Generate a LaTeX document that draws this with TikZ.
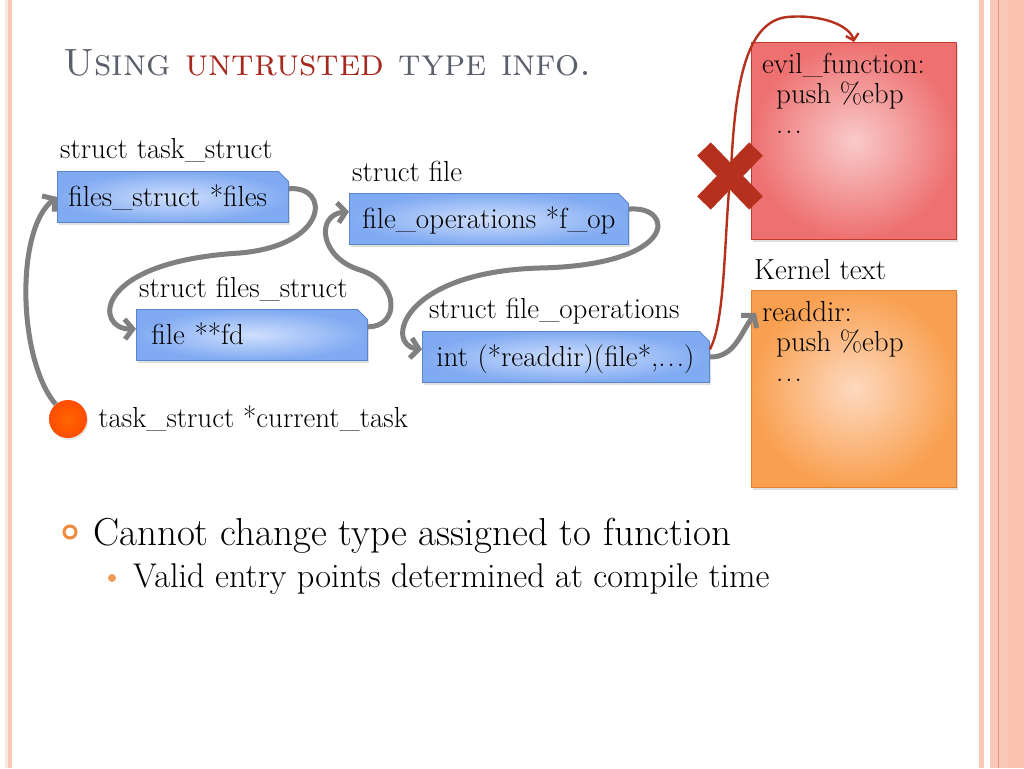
\documentclass[tikz,border=0pt]{standalone}
\usepackage{tikz}
\usetikzlibrary{arrows.meta, positioning, shapes.misc, shadows}

\definecolor{slidegray}{HTML}{5B5F6B}
\definecolor{titlered}{HTML}{A6281E}
\definecolor{linkgray}{HTML}{808080}
\definecolor{bluein}{HTML}{CFDFFD}
\definecolor{blueout}{HTML}{80AAF2}
\definecolor{blueline}{HTML}{5A84CC}
\definecolor{redin}{HTML}{F9CACA}
\definecolor{redout}{HTML}{EE7070}
\definecolor{redline}{HTML}{C23A2E}
\definecolor{orangein}{HTML}{FDD9BF}
\definecolor{orangeout}{HTML}{F9A050}
\definecolor{orangeline}{HTML}{E57F2C}
\definecolor{evilred}{HTML}{B5311E}
\definecolor{bulletorange}{HTML}{F08A3C}
\definecolor{framepink}{HTML}{F9C8B6}
\definecolor{framedeep}{HTML}{FCC4AE}
\definecolor{framecream}{HTML}{FBE9DC}
\definecolor{frameline}{HTML}{E29A7E}

\newcommand\diagfont{\fontsize{29}{30}\selectfont}
\newcommand\titlefont{\fontsize{38}{44}\selectfont}
\newcommand\pointfont{\fontsize{39}{44}\selectfont}
\newcommand\subpointfont{\fontsize{34.3}{40}\selectfont}
\newcommand\codedots{.\hspace{2pt}.\hspace{2pt}.}

\tikzset{
  blkbox/.style={chamfered rectangle, chamfered rectangle corners=north east,
    chamfered rectangle sep=5pt, draw=blueline, line width=0.8pt,
    inner color=bluein, outer color=blueout, anchor=north west,
    minimum height=51pt, text height=20pt, text depth=0pt, inner ysep=0pt,
    align=left, font=\diagfont,
    drop shadow={shadow xshift=1.5pt, shadow yshift=-2.5pt, opacity=0.25}},
  codebox/.style={rectangle, anchor=north west, minimum width=205pt,
    minimum height=197pt, line width=0.8pt,
    drop shadow={shadow xshift=1.5pt, shadow yshift=-2.5pt, opacity=0.25}},
  codetext/.style={anchor=north west, inner sep=0pt, align=left, font=\diagfont},
  lbl/.style={inner sep=0pt, font=\diagfont},
  conn/.style={draw=linkgray, line width=5pt,
    -{Straight Barb[length=8pt, width=20pt]}},
  evil/.style={draw=evilred, line width=2.4pt,
    -{Straight Barb[length=6pt, width=13pt]}},
}

\begin{document}
\begin{tikzpicture}[x=1pt, y=-1pt]
\useasboundingbox (0,0) rectangle (1024,768);
% slide frame
\fill[white] (0,0) rectangle (1024,768);
\fill[framecream] (5,0) rectangle (8,768);
\fill[framepink] (8,0) rectangle (12,768);
\fill[framepink] (979,0) rectangle (983.5,768);
\fill[framepink] (990,0) rectangle (1024,768);
\fill[framedeep] (1008,0) rectangle (1024,768);
\draw[frameline, line width=1pt] (998.5,0) -- (998.5,768);

% title
\node[anchor=base west, inner sep=0pt, font=\titlefont, text=slidegray] (title) at (63,75)
  {\scshape Using \textcolor{titlered}{untrusted} type info.};

% struct boxes
\node[blkbox, inner xsep=6pt, text width=209pt] (files) at (57,171) {files\_struct~*files};
\node[blkbox, inner xsep=8pt, text width=253pt] (fop) at (349,193) {file\_operations~*f\_op};
\node[blkbox, inner xsep=10pt, text width=201pt] (fd) at (136,309) {file~**fd};
\node[blkbox, inner xsep=9pt, text width=259pt] (readdir) at (422,331) {int~(*readdir)(file*,\codedots)};

\node[lbl, above right=13pt and 3pt of files.north west, anchor=base west] (ltask) {struct task\_struct};
\node[lbl, above right=12pt and 3pt of fop.north west, anchor=base west] (lfile) {struct file};
\node[lbl, above right=12pt and 3pt of fd.north west, anchor=base west] (lfiles) {struct files\_struct};
\node[lbl, above right=13pt and 7pt of readdir.north west, anchor=base west] (lfop) {struct file\_operations};

% code boxes
\node[codebox, draw=redline, inner color=redin, outer color=redout] (evilfn) at (751,42) {};
\node[codebox, draw=orangeline, inner color=orangein, outer color=orangeout] (kernel) at (751,290) {};
\node[codetext] (evilcode) at ([shift={(11,11)}]evilfn.north west)
  {evil\_function:\\\hspace*{14pt}push \%ebp\\\hspace*{14pt}\codedots};
\node[codetext] (kernelcode) at ([shift={(11,11)}]kernel.north west)
  {readdir:\\\hspace*{14pt}push \%ebp\\\hspace*{14pt}\codedots};
\node[lbl, above right=11pt and 3pt of kernel.north west, anchor=base west] (lkernel) {Kernel text};

% current task pointer
\node[circle, minimum size=38pt, inner sep=0pt, inner color=orange!80!red, outer color=orange!60!red,
  drop shadow={shadow xshift=1pt, shadow yshift=-2pt, opacity=0.2}] (cur) at (68,419) {};
\node[lbl, right=11pt of cur] (lcur) {task\_struct *current\_task};

% pointer chain
\draw[conn] (cur.130) .. controls (18,360) and (15,230) .. (files.west);
\draw[conn] (files.4) .. controls (330,185) and (330,245) .. (240,253)
  .. controls (90,262) and (95,330) .. (fd.177);
\draw[conn] (fd.4) .. controls (400,327) and (400,282) .. (360,270)
  .. controls (320,258) and (315,215) .. (fop.177);
\draw[conn] (fop.4) .. controls (675,205) and (680,265) .. (540,268)
  .. controls (400,272) and (385,345) .. (readdir.177);
\draw[conn] (readdir.east) .. controls (735,358) and (742,330) .. ([shift={(5,23)}]kernel.north west);

% blocked redirect
\coordinate (xmark) at (730,176);
\draw[evilred, line width=19pt] ([shift={(-26,-27)}]xmark) -- ([shift={(26,27)}]xmark);
\draw[evilred, line width=19pt] ([shift={(26,-27)}]xmark) -- ([shift={(-26,27)}]xmark);
\draw[evil] (readdir.3) .. controls (726,320) and (724,230) .. (731,170)
  .. controls (735,90) and (744,22) .. (787,17)
  .. controls (820,14) and (850,25) .. (evilfn.north);

% bullets
\node[circle, draw=bulletorange, line width=3pt, minimum size=12pt, inner sep=0pt] (b1) at (70,532) {};
\node[anchor=base west, inner sep=0pt, font=\pointfont] (p1) at (93,545) {Cannot change type assigned to function};
\node[circle, fill=bulletorange!85!white, minimum size=8pt, inner sep=0pt] (b2) at (112,578) {};
\node[anchor=base west, inner sep=0pt, font=\subpointfont] (p2) at (133,587) {Valid entry points determined at compile time};
\end{tikzpicture}
\end{document}
